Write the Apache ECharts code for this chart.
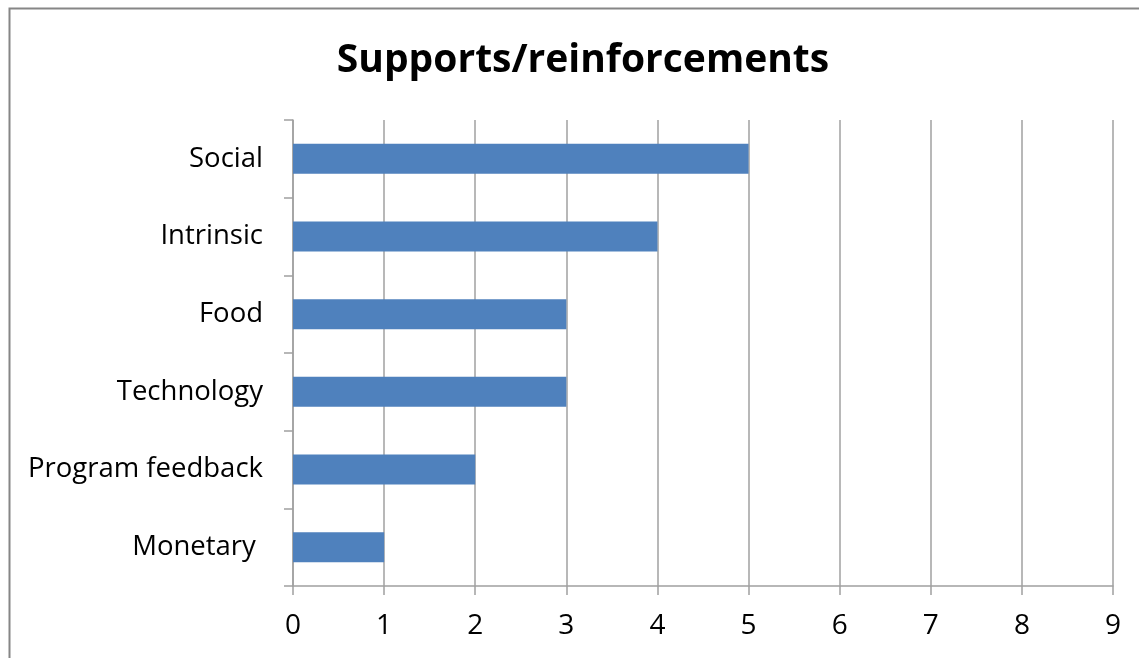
<!DOCTYPE html>
<html><head><meta charset="utf-8">
<script src="https://cdn.jsdelivr.net/npm/echarts@6/dist/echarts.min.js"></script>
<style>html,body{margin:0;padding:0;background:#fff}#c{width:1139px;height:658px}</style>
</head><body><div id="c"></div>
<script>
const categories = ["Monetary ", "Program feedback", "Technology", "Food", "Intrinsic", "Social"];
const values = [1, 2, 3, 3, 4, 5];
const xTicks = [0, 9, 1];
const titleText = "Supports/reinforcements";

const chart = echarts.init(document.getElementById('c'));
chart.setOption({
  animation: false,
  graphic: [{
    type: 'rect', shape: {x: 9.5, y: 8.5, width: 1200, height: 700},
    style: {fill: 'none', stroke: '#868686', lineWidth: 2}, silent: true
  }],
  title: {
    text: titleText, left: 578, top: 36, textAlign: 'center',
    textStyle: {fontFamily: 'Open Sans', fontSize: 39, fontWeight: 'bold', color: '#000'}
  },
  grid: {left: 293, right: 26, top: 120, bottom: 72, containLabel: false},
  xAxis: {
    type: 'value', min: xTicks[0], max: xTicks[1], interval: xTicks[2],
    axisLine: {show: true, lineStyle: {color: '#a0a0a0', width: 1.5}},
    axisTick: {show: true, length: 9, lineStyle: {color: '#a0a0a0', width: 1.5}},
    splitLine: {show: true, lineStyle: {color: '#a0a0a0', width: 1.5}},
    axisLabel: {fontFamily: 'Open Sans', fontSize: 28, color: '#000', margin: 26}
  },
  yAxis: {
    type: 'category', data: categories,
    axisLine: {show: true, lineStyle: {color: '#a0a0a0', width: 1.5}},
    axisTick: {show: true, length: 9, lineStyle: {color: '#a0a0a0', width: 1.5}},
    axisLabel: {fontFamily: 'Open Sans', fontSize: 27.5, color: '#000', margin: 30}
  },
  series: [{
    type: 'bar', data: values, barWidth: 30,
    itemStyle: {color: '#4F81BD'}
  }]
});
</script></body></html>
